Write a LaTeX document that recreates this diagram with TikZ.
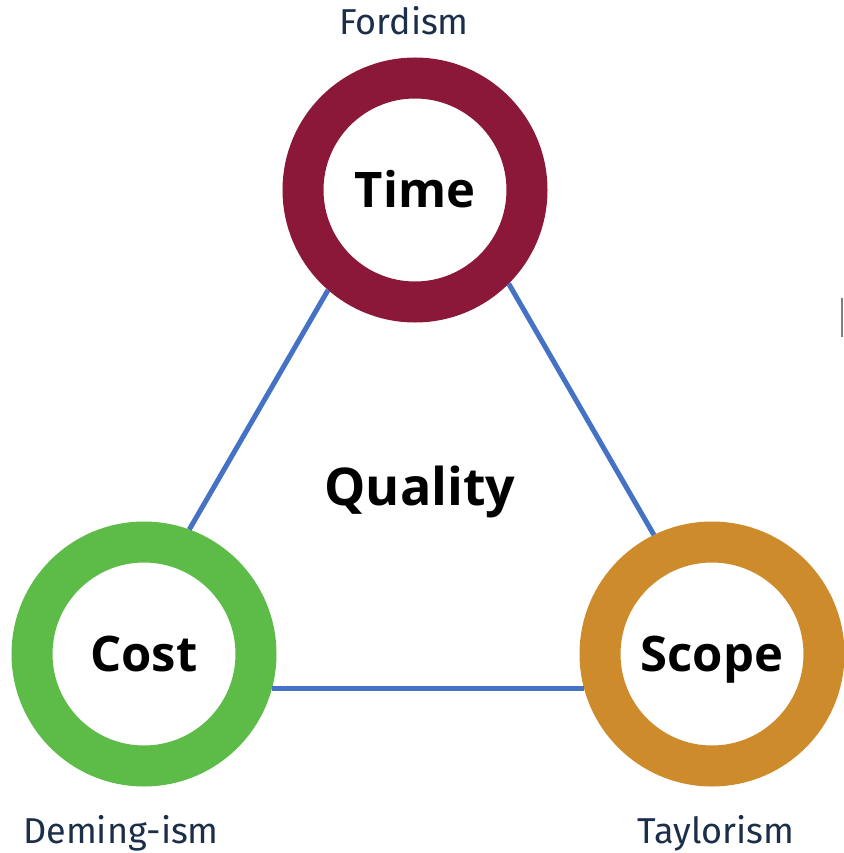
\documentclass[tikz,border=0pt]{standalone}
\usepackage{fontspec}
\setmainfont{Fira Sans}
\newfontfamily\boldface{Open Sans}
\usepackage{tikz}
\definecolor{timered}{HTML}{8B1838}
\definecolor{costgreen}{HTML}{5DBB47}
\definecolor{scopeorange}{HTML}{CE8B2B}
\definecolor{edgeblue}{HTML}{4472C4}
\definecolor{labelnavy}{HTML}{1B2E4A}
\newcommand\ringfont{\boldface\bfseries\fontsize{49}{58}\selectfont}

\begin{document}
\begin{tikzpicture}[x=1pt, y=-1pt,
    ring/.style={circle, draw=#1, line width=41pt, minimum size=224pt,
      inner sep=0pt, text height=35pt, text depth=0pt, font=\ringfont},
    school/.style={anchor=base, text=labelnavy, font=\fontsize{36}{42}\selectfont},
    side/.style={edgeblue, line width=5pt}]

  \useasboundingbox (0, 0) rectangle (843, 853);

  \node[ring=timered] (time) at (415, 190) {Time};
  \node[ring=costgreen] (cost) at (144, 654) {Cost};
  \node[ring=scopeorange] (scope) at (712, 654) {Scope};

  \draw[side] (time.229) -- (cost.70);
  \draw[side] (time.315) -- (scope.116);
  \draw[side] (cost.-15) -- (scope.195);

  \node[anchor=base, font=\boldface\bfseries\fontsize{52}{60}\selectfont] (quality) at (420, 505) {Quality};

  \node[school] (fordism) at (404, 35) {Fordism};
  \node[school] (deming) at (121, 843) {Deming-ism};
  \node[school] (taylor) at (716, 843) {Taylorism};

  \draw[gray, line width=1.5pt] (842, 298) -- (842, 337);

\end{tikzpicture}
\end{document}
